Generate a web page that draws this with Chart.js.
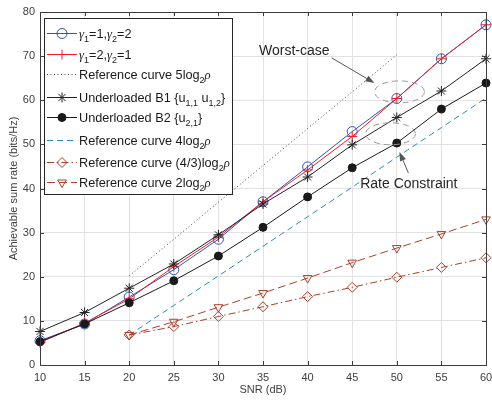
<!DOCTYPE html>
<html><head><meta charset="utf-8">
<script src="https://cdn.jsdelivr.net/npm/chart.js@4.4.1/dist/chart.umd.min.js"></script>
<style>html,body{margin:0;padding:0;background:#fff;}canvas{display:block}</style>
</head><body>
<canvas id="c" width="492" height="405"></canvas>
<script>
// ---------- data ----------
const snr = [10, 15, 20, 25, 30, 35, 40, 45, 50, 55, 60];
const gamma12 = [5.5, 9.3, 15.4, 21.6, 28.5, 37.0, 44.9, 52.9, 60.4, 69.4, 77.1];
const gamma21 = [5.1, 9.5, 15.0, 22.3, 29.0, 37.0, 44.2, 51.8, 60.4, 69.4, 77.1];
const ref5log = [null, null, 20.2, 28.5, 36.9, 45.2, 53.6, 61.9, 70.3, null, null];
const underB1 = [7.6, 11.9, 17.4, 22.9, 29.5, 36.5, 42.6, 49.9, 56.1, 62.1, 69.4];
const underB2 = [5.3, 9.3, 14.1, 19.1, 24.7, 31.2, 38.1, 44.7, 50.3, 58.0, 63.9];
const ref4log = [null, null, 6.8, 13.5, 20.2, 26.9, 33.6, 40.3, 47.1, 53.8, 60.5];
const ref43log = [null, null, 6.8, 8.7, 11.0, 13.2, 15.5, 17.6, 19.9, 22.1, 24.3];
const ref2log = [null, null, 6.8, 9.8, 13.1, 16.3, 19.7, 23.2, 26.5, 29.7, 33.0];

const xTicks = [10, 15, 20, 25, 30, 35, 40, 45, 50, 55, 60];
const yTicks = [0, 10, 20, 30, 40, 50, 60, 70, 80];
const xTitle = 'SNR (dB)';
const yTitle = 'Achievable sum rate (bits/Hz)';

const seriesNames = [
  'γ1=1,γ2=2', 'γ1=2,γ2=1', 'Reference curve 5log2ρ', 'Underloaded B1 {u1,1 u1,2}',
  'Underloaded B2 {u2,1}', 'Reference curve 4log2ρ', 'Reference curve (4/3)log2ρ', 'Reference curve 2log2ρ'
];
// rich legend text: [text, kind]  kind: n=normal, s=subscript, g=greek
const legendRich = [
  [['γ','g'],['1','s'],['=1,','n'],['γ','g'],['2','s'],['=2','n']],
  [['γ','g'],['1','s'],['=2,','n'],['γ','g'],['2','s'],['=1','n']],
  [['Reference curve 5log','n'],['2','s'],['ρ','g']],
  [['Underloaded B1 {u','n'],['1,1','s'],[' u','n'],['1,2','s'],['}','n']],
  [['Underloaded B2 {u','n'],['2,1','s'],['}','n']],
  [['Reference curve 4log','n'],['2','s'],['ρ','g']],
  [['Reference curve (4/3)log','n'],['2','s'],['ρ','g']],
  [['Reference curve 2log','n'],['2','s'],['ρ','g']]
];
// annotations in data coordinates
const noteTexts = [{text:'Worst-case', x:34.55, y:70.3}, {text:'Rate Constraint', x:45.9, y:40.1}];
const noteArrows = [{x0:42.7, y0:69.6, x1:47.5, y1:63.9}, {x0:51.3, y0:43.5, x1:50.3, y1:48.3}];
const noteEllipses = [{x:50.3, y:61.9}, {x:49.3, y:52.4}];

// ---------- styling ----------
const FONT = '"Liberation Sans", Arial, Helvetica, sans-serif';
const BROWN = '#a8412d';
const styles = [
  {c:'#2f54b8', ps:'circle', r:5, fill:false},
  {c:'#f01c28', ps:'cross', r:5, fill:false},
  {c:'#444444', ps:false, r:0, dash:[1,2.5]},
  {c:'#222222', ps:'star', r:5, fill:false},
  {c:'#1a1a1a', ps:'circle', r:4, fill:true},
  {c:'#2a88d6', ps:false, r:0, dash:[6,4]},
  {c:BROWN, ps:'rectRot', r:5, fill:false, dash:[7,3,1.5,3]},
  {c:BROWN, ps:'triangle', r:5, fill:false, dash:[8,4], rot:180}
];
const allData = [gamma12, gamma21, ref5log, underB1, underB2, ref4log, ref43log, ref2log];

const datasets = allData.map((d, i) => {
  const s = styles[i];
  return {
    label: seriesNames[i],
    data: d,
    borderColor: s.c,
    borderWidth: 1,
    borderDash: s.dash || [],
    pointStyle: s.ps || 'circle',
    pointRadius: s.r,
    pointHoverRadius: s.r,
    pointBorderColor: s.c,
    pointBackgroundColor: s.fill ? s.c : 'rgba(0,0,0,0)',
    pointBorderWidth: 1,
    pointRotation: s.rot || 0,
    tension: 0,
    spanGaps: false,
    clip: false,
    order: allData.length - i
  };
});

const decor = {
  id: 'decor',
  afterDatasetsDraw(chart) {
    const ctx = chart.ctx;
    const a = chart.chartArea;
    const xs = chart.scales.x, ys = chart.scales.y;
    ctx.save();
    // frame
    ctx.strokeStyle = '#3c3c3c';
    ctx.lineWidth = 1;
    ctx.setLineDash([]);
    ctx.strokeRect(Math.round(a.left) + 0.5, Math.round(a.top) + 0.5, Math.round(a.right - a.left), Math.round(a.bottom - a.top));
    // inward ticks
    const TL = 4;
    ctx.beginPath();
    xTicks.forEach(v => {
      const px = Math.round(xs.getPixelForValue(v)) + 0.5;
      ctx.moveTo(px, a.bottom); ctx.lineTo(px, a.bottom - TL);
      ctx.moveTo(px, a.top); ctx.lineTo(px, a.top + TL);
    });
    yTicks.forEach(v => {
      const py = Math.round(ys.getPixelForValue(v)) + 0.5;
      ctx.moveTo(a.left, py); ctx.lineTo(a.left + TL, py);
      ctx.moveTo(a.right, py); ctx.lineTo(a.right - TL, py);
    });
    ctx.stroke();

    // annotations: ellipses
    ctx.strokeStyle = '#9a9a9a';
    ctx.setLineDash([6, 4]);
    noteEllipses.forEach(e => {
      ctx.beginPath();
      ctx.ellipse(xs.getPixelForValue(e.x), ys.getPixelForValue(e.y), 25, 11, 0, 0, Math.PI * 2);
      ctx.stroke();
    });
    ctx.setLineDash([]);
    // arrows
    ctx.strokeStyle = '#555555';
    ctx.fillStyle = '#555555';
    noteArrows.forEach(ar => {
      const x0 = xs.getPixelForValue(ar.x0), y0 = ys.getPixelForValue(ar.y0);
      const x1 = xs.getPixelForValue(ar.x1), y1 = ys.getPixelForValue(ar.y1);
      const ang = Math.atan2(y1 - y0, x1 - x0);
      const hl = 9, hw = 3.2;
      const bx = x1 - Math.cos(ang) * hl, by = y1 - Math.sin(ang) * hl;
      ctx.beginPath(); ctx.moveTo(x0, y0); ctx.lineTo(bx, by); ctx.stroke();
      ctx.beginPath();
      ctx.moveTo(x1, y1);
      ctx.lineTo(bx + Math.sin(ang) * hw, by - Math.cos(ang) * hw);
      ctx.lineTo(bx - Math.sin(ang) * hw, by + Math.cos(ang) * hw);
      ctx.closePath(); ctx.fill();
    });
    // texts
    ctx.fillStyle = '#262626';
    ctx.font = '14px ' + FONT;
    ctx.textAlign = 'left';
    ctx.textBaseline = 'alphabetic';
    noteTexts.forEach(t => ctx.fillText(t.text, xs.getPixelForValue(t.x), ys.getPixelForValue(t.y)));

    // legend
    const L = {x: 44, y: 18, w: 188, h: 176};
    ctx.fillStyle = '#ffffff';
    ctx.fillRect(L.x, L.y, L.w, L.h);
    ctx.strokeStyle = '#262626';
    ctx.strokeRect(L.x + 0.5, L.y + 0.5, L.w, L.h);
    const rows = [33, 54, 74, 97, 117, 140, 162, 182];
    chart.data.datasets.forEach((ds, i) => {
      const cy = rows[i] + 0.5;
      ctx.strokeStyle = ds.borderColor;
      ctx.lineWidth = 1;
      ctx.setLineDash(ds.borderDash || []);
      ctx.beginPath(); ctx.moveTo(47, cy); ctx.lineTo(77, cy); ctx.stroke();
      ctx.setLineDash([]);
      if (ds.pointRadius > 0) {
        ctx.strokeStyle = ds.pointBorderColor;
        ctx.fillStyle = ds.pointBackgroundColor;
        Chart.helpers.drawPoint(ctx, {pointStyle: ds.pointStyle, rotation: ds.pointRotation, radius: ds.pointRadius, borderWidth: 1}, 62, cy);
      }
      // text
      let x = 79;
      const base = rows[i] + 4.5;
      ctx.fillStyle = '#1a1a1a';
      legendRich[i].forEach(([t, k]) => {
        let yy = base;
        if (k === 's') { ctx.font = '9px ' + FONT; yy = base + 4; }
        else if (k === 'g') { ctx.font = 'italic 12.7px "Liberation Serif", "DejaVu Serif", serif'; }
        else { ctx.font = '12.7px ' + FONT; }
        ctx.fillText(t, x, yy);
        x += ctx.measureText(t).width;
      });
    });
    ctx.restore();
  }
};

new Chart(document.getElementById('c'), {
  type: 'line',
  data: {labels: snr, datasets},
  options: {
    responsive: false,
    devicePixelRatio: 1,
    animation: false,
    events: [],
    layout: {padding: {top: 12, right: 4, left: 0, bottom: 0}},
    plugins: {legend: {display: false}, tooltip: {enabled: false}},
    scales: {
      x: {
        type: 'linear', min: 10, max: 60,
        afterBuildTicks: s => { s.ticks = xTicks.map(v => ({value: v})); },
        afterFit: s => { s.height = 40; s.paddingLeft = 0; s.paddingRight = 0; },
        grid: {color: '#e2e2e2', drawTicks: false, lineWidth: 1},
        border: {display: false},
        ticks: {padding: 6, color: '#404040', font: {family: FONT, size: 11}, maxRotation: 0, autoSkip: false},
        title: {display: true, text: xTitle, color: '#404040', font: {family: FONT, size: 11}, padding: {top: 0, bottom: 8}}
      },
      y: {
        type: 'linear', min: 0, max: 80,
        afterBuildTicks: s => { s.ticks = yTicks.map(v => ({value: v})); },
        afterFit: s => { s.width = 40; s.paddingTop = 0; s.paddingBottom = 0; },
        grid: {color: '#e2e2e2', drawTicks: false, lineWidth: 1},
        border: {display: false},
        ticks: {padding: 5, color: '#404040', font: {family: FONT, size: 11}, autoSkip: false},
        title: {display: true, text: yTitle, color: '#404040', font: {family: FONT, size: 11}, padding: {top: 7, bottom: 0}}
      }
    }
  },
  plugins: [decor]
});
</script>
</body></html>
